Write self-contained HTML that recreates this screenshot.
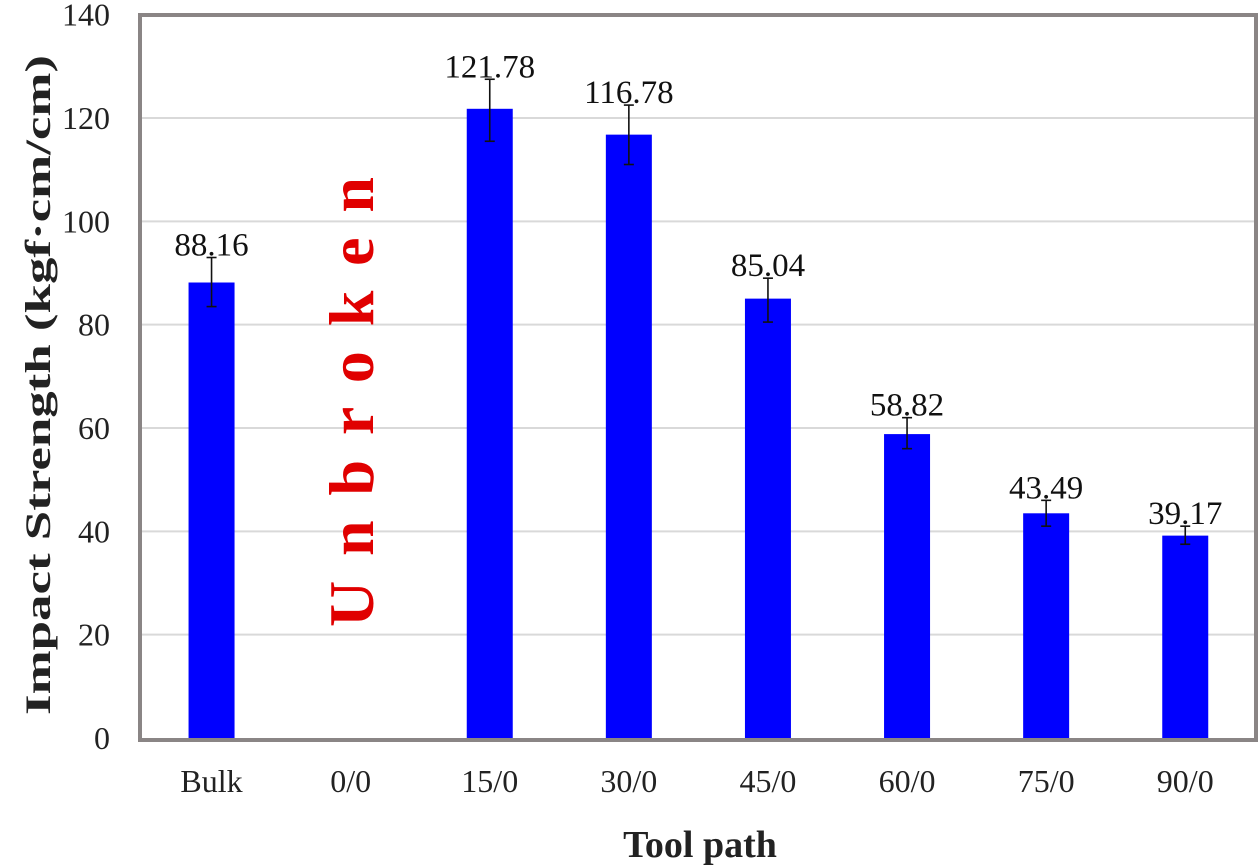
<!DOCTYPE html>
<html><head><meta charset="utf-8"><style>
html,body{margin:0;padding:0;background:#fff;}
svg{display:block;font-family:"Liberation Serif",serif;}
</style></head><body>
<svg id="chart" width="1260" height="867">
<g id="grid"></g><g id="bars"></g><g id="labels"></g>
<rect x="140" y="15" width="1116" height="725" fill="none" stroke="#8a8585" stroke-width="4"/>
<text x="0" y="0" transform="translate(50,385) rotate(-90)" text-anchor="middle" font-size="36" font-weight="bold" fill="#222" textLength="660" lengthAdjust="spacingAndGlyphs">Impact Strength (kgf·cm/cm)</text>
<text x="700" y="857" text-anchor="middle" font-size="38" font-weight="bold" fill="#222">Tool path</text>
<text x="0" y="0" transform="translate(373,402) rotate(-90)" text-anchor="middle" font-size="64" font-weight="bold" fill="#e00000" textLength="450" lengthAdjust="spacing">Unbroken</text>
</svg>
<script>
const categories=["Bulk","0/0","15/0","30/0","45/0","60/0","75/0","90/0"];
const values=[88.16,null,121.78,116.78,85.04,58.82,43.49,39.17];
const errLow=[83.5,null,115.5,111,80.5,56,41,37.5];
const errHigh=[93,null,127.5,122.5,89,62,46,41];
const valueLabels=["88.16","","121.78","116.78","85.04","58.82","43.49","39.17"];
const yTicks=[0,20,40,60,80,100,120,140];
const NS="http://www.w3.org/2000/svg";
const y0=738, pxPer=(738-118)/120, left=142, bw=139.1;
const yS=v=>y0-v*pxPer;
const xC=i=>left+bw*(i+0.5);
function mk(t,a,p){const e=document.createElementNS(NS,t);for(const k in a)e.setAttribute(k,a[k]);p.appendChild(e);return e;}
const grid=document.getElementById('grid'),bars=document.getElementById('bars'),lab=document.getElementById('labels');
yTicks.forEach(t=>{
 if(t>0&&t<140){const l=mk('line',{x1:142,x2:1255,y1:yS(t),y2:yS(t),stroke:'#d9d9d9','stroke-width':2},grid);
 
 }
 const tx=mk('text',{x:110,y:yS(t)+11,'text-anchor':'end','font-size':32,fill:'#222'},lab);tx.textContent=t;
 
 
});
categories.forEach((c,i)=>{
 const tx=mk('text',{x:xC(i),y:792,'text-anchor':'middle','font-size':32,fill:'#222'},lab);tx.textContent=c;
 
 
 if(values[i]==null)return;
 const b=mk('rect',{x:xC(i)-23,y:yS(values[i]),width:46,height:y0-yS(values[i]),fill:'#0000ff'},bars);
 
 
 const g=mk('g',{stroke:'#111','stroke-width':1.6},bars);
 
 
 mk('line',{x1:xC(i),x2:xC(i),y1:yS(errLow[i]),y2:yS(errHigh[i])},g);
 mk('line',{x1:xC(i)-5,x2:xC(i)+5,y1:yS(errLow[i]),y2:yS(errLow[i])},g);
 mk('line',{x1:xC(i)-5,x2:xC(i)+5,y1:yS(errHigh[i]),y2:yS(errHigh[i])},g);
 const v=mk('text',{x:xC(i),y:yS(errHigh[i])-2,'text-anchor':'middle','font-size':33,fill:'#111'},lab);v.textContent=valueLabels[i];
 
 
});
</script>
</body></html>
